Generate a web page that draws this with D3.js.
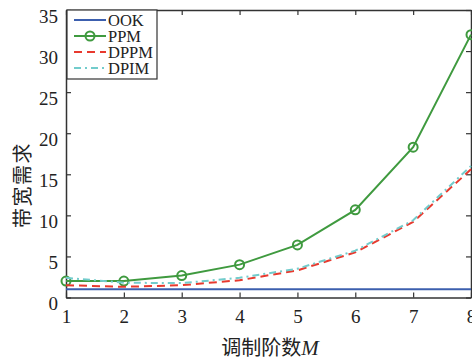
<!DOCTYPE html>
<html>
<head>
<meta charset="utf-8">
<script src="https://cdn.jsdelivr.net/npm/d3@7"></script>
<style>
	body { margin: 0; background: #fff; }
	svg { display: block; }
</style>
</head>
<body>
<div id="chart"></div>
<script>
var WIDTH = 472;
var HEIGHT = 361;

// data
var orders = [1, 2, 3, 4, 5, 6, 7, 8];
var ookValues = [1, 1, 1, 1, 1, 1, 1, 1];
var ppmValues = [2, 2, 2.67, 4, 6.4, 10.67, 18.3, 32];
var dppmValues = [1.5, 1.3, 1.5, 2.1, 3.3, 5.5, 9.2, 15.6];
var dpimValues = [2.4, 1.8, 1.75, 2.4, 3.5, 5.7, 9.4, 16];
var yTicks = [0, 5, 10, 15, 20, 25, 30, 35];
var seriesNames = ["OOK", "PPM", "DPPM", "DPIM"];

var margin = { top: 10, right: 1, bottom: 63.5, left: 66 };
var plotWidth = WIDTH - margin.left - margin.right;
var plotHeight = HEIGHT - margin.top - margin.bottom;

var series = [
	{ name: seriesNames[0], values: ookValues, color: "#3c5fae", dash: null, marker: false },
	{ name: seriesNames[1], values: ppmValues, color: "#3f9a3f", dash: null, marker: true },
	{ name: seriesNames[2], values: dppmValues, color: "#e8392e", dash: "8,5", marker: false },
	{ name: seriesNames[3], values: dpimValues, color: "#72cccc", dash: "7,4,2,4", marker: false }
];

var svg = d3.select("#chart")
	.append("svg")
	.attr("width", WIDTH)
	.attr("height", HEIGHT);

var inner = svg.append("g")
	.attr("transform", `translate(${margin.left},${margin.top})`);

var xScale = d3.scaleLinear().domain([1, 8]).range([0, plotWidth]);
var yScale = d3.scaleLinear().domain([0, 35]).range([plotHeight, 0]);

var axisColor = "#333";
var tickFont = "'Liberation Serif', 'Times New Roman', serif";

// axes, ticks pointing inward
var xAxis = inner.append("g")
	.attr("transform", `translate(0,${plotHeight})`)
	.call(d3.axisBottom(xScale).tickValues(orders).tickFormat(d3.format("d"))
		.tickSizeInner(-5).tickSizeOuter(0).tickPadding(12));
var yAxis = inner.append("g")
	.call(d3.axisLeft(yScale).tickValues(yTicks).tickFormat(d3.format("d"))
		.tickSizeInner(-5).tickSizeOuter(0).tickPadding(8));
inner.append("g")
	.call(d3.axisTop(xScale).tickValues(orders).tickSizeInner(-5).tickSizeOuter(0).tickFormat(""));
inner.append("g")
	.attr("transform", `translate(${plotWidth},0)`)
	.call(d3.axisRight(yScale).tickValues(yTicks).tickSizeInner(-5).tickSizeOuter(0).tickFormat(""));

inner.selectAll(".domain").attr("stroke", axisColor).attr("stroke-width", 1.5);
inner.selectAll(".tick line").attr("stroke", axisColor).attr("stroke-width", 1.2);
inner.selectAll(".tick text")
	.attr("fill", "#222")
	.style("font-family", tickFont)
	.style("font-size", "19px");
yAxis.selectAll(".tick text").attr("dy", "0.65em");

// series lines
var line = d3.line()
	.x((d, i) => xScale(orders[i]))
	.y(d => yScale(d));

var plot = inner.append("g");

series.forEach(s => {
	plot.append("path")
		.datum(s.values)
		.attr("fill", "none")
		.attr("stroke", s.color)
		.attr("stroke-width", 2)
		.attr("stroke-dasharray", s.dash)
		.attr("d", line);

	if (s.marker) {
		plot.selectAll(".marker-" + s.name)
			.data(s.values)
			.enter().append("circle")
			.attr("class", "marker-" + s.name)
			.attr("cx", (d, i) => xScale(orders[i]))
			.attr("cy", d => yScale(d))
			.attr("r", 4.5)
			.attr("fill", "none")
			.attr("stroke", s.color)
			.attr("stroke-width", 2);
	}
});

// legend
var legend = inner.append("g").attr("transform", "translate(1,0)");
legend.append("rect")
	.attr("x", 0).attr("y", 0)
	.attr("width", 90).attr("height", 69)
	.attr("fill", "#fff")
	.attr("stroke", axisColor)
	.attr("stroke-width", 1.2);

series.forEach((s, i) => {
	var y = 10 + i * 16;
	legend.append("line")
		.attr("x1", 7).attr("x2", 39)
		.attr("y1", y).attr("y2", y)
		.attr("stroke", s.color)
		.attr("stroke-width", 2)
		.attr("stroke-dasharray", s.dash);
	if (s.marker) {
		legend.append("circle")
			.attr("cx", 23).attr("cy", y).attr("r", 4.5)
			.attr("fill", "none")
			.attr("stroke", s.color)
			.attr("stroke-width", 2);
	}
	legend.append("text")
		.attr("x", 41)
		.attr("y", y)
		.attr("dy", "0.35em")
		.attr("fill", "#222")
		.style("font-family", tickFont)
		.style("font-size", "16.5px")
		.text(s.name);
});

// axis labels
var xLabel = svg.append("text")
	.attr("x", 270)
	.attr("y", 355)
	.attr("text-anchor", "middle")
	.attr("fill", "#222")
	.style("font-size", "20px");
xLabel.append("tspan")
	.style("font-family", "'Noto Sans CJK SC', sans-serif")
	.text("调制阶数");
xLabel.append("tspan")
	.style("font-family", tickFont)
	.style("font-style", "italic")
	.style("font-size", "21px")
	.text("M");

svg.append("text")
	.attr("transform", "rotate(-90)")
	.attr("x", -185)
	.attr("y", 30)
	.attr("text-anchor", "middle")
	.attr("fill", "#222")
	.style("font-family", "'Noto Sans CJK SC', sans-serif")
	.style("font-size", "20px")
	.style("letter-spacing", "1.5px")
	.text("带宽需求");
</script>
</body>
</html>
